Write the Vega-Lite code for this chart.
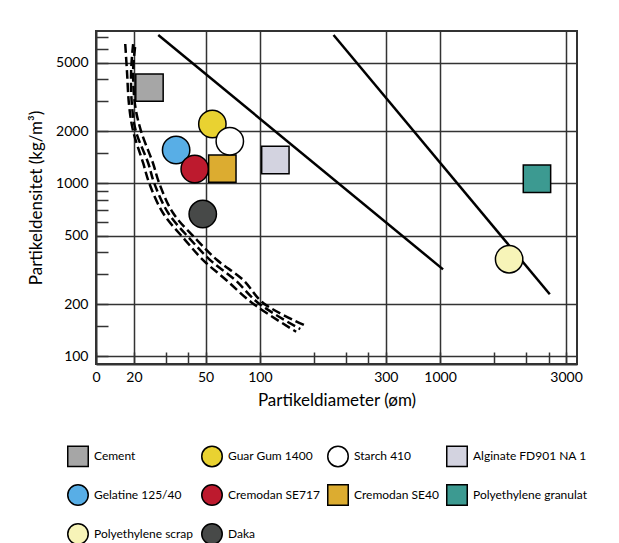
{
  "$schema": "https://vega.github.io/schema/vega-lite/v6.json",
  "width": 481,
  "height": 333,
  "autosize": {"type": "none"},
  "padding": {"left": 96, "top": 31, "right": 42, "bottom": 179},
  "background": "white",
  "config": {
    "font": "Lato",
    "view": {"stroke": "#333333", "strokeWidth": 2},
    "axis": {
      "domainColor": "#333333",
      "domainWidth": 2,
      "gridColor": "#333333",
      "gridWidth": 1.5,
      "tickColor": "#333333",
      "tickWidth": 1.5,
      "labelColor": "black",
      "labelFontSize": 14,
      "titleColor": "black",
      "titleFontSize": 17,
      "titleFontWeight": "normal",
      "labelFlush": false,
      "labelOverlap": false
    }
  },
  "datasets": {
    "materials": [
      {"name": "Cement", "d": 24.4, "rho": 3580},
      {"name": "Gelatine 125/40", "d": 34.3, "rho": 1562},
      {"name": "Cremodan SE717", "d": 43.5, "rho": 1213},
      {"name": "Cremodan SE40", "d": 61.9, "rho": 1218},
      {"name": "Guar Gum 1400", "d": 54.5, "rho": 2208},
      {"name": "Starch 410", "d": 68.1, "rho": 1754},
      {"name": "Alginate FD901 NA 1", "d": 121.9, "rho": 1367},
      {"name": "Daka", "d": 48.2, "rho": 666},
      {"name": "Polyethylene granulat", "d": 3450, "rho": 1066},
      {"name": "Polyethylene scrap", "d": 2417, "rho": 365}
    ],
    "curves": [
      {"curve": "A", "i": 1, "d": 17.9, "rho": 6400},
      {"curve": "A", "i": 2, "d": 18.3, "rho": 4470},
      {"curve": "A", "i": 3, "d": 18.8, "rho": 2840},
      {"curve": "A", "i": 4, "d": 19.8, "rho": 2010},
      {"curve": "A", "i": 5, "d": 22.5, "rho": 1314},
      {"curve": "A", "i": 6, "d": 24.3, "rho": 1007},
      {"curve": "A", "i": 7, "d": 29.0, "rho": 675},
      {"curve": "A", "i": 8, "d": 38.5, "rho": 471},
      {"curve": "A", "i": 9, "d": 48.4, "rho": 361},
      {"curve": "A", "i": 10, "d": 65.0, "rho": 277},
      {"curve": "A", "i": 11, "d": 90.6, "rho": 204},
      {"curve": "A", "i": 12, "d": 159, "rho": 139},
      {"curve": "B", "i": 1, "d": 19.8, "rho": 6400},
      {"curve": "B", "i": 2, "d": 19.3, "rho": 4470},
      {"curve": "B", "i": 3, "d": 19.5, "rho": 2840},
      {"curve": "B", "i": 4, "d": 20.5, "rho": 2010},
      {"curve": "B", "i": 5, "d": 24.0, "rho": 1314},
      {"curve": "B", "i": 6, "d": 25.9, "rho": 1007},
      {"curve": "B", "i": 7, "d": 31.0, "rho": 675},
      {"curve": "B", "i": 8, "d": 41.5, "rho": 471},
      {"curve": "B", "i": 9, "d": 53.0, "rho": 361},
      {"curve": "B", "i": 10, "d": 72.9, "rho": 277},
      {"curve": "B", "i": 11, "d": 97.9, "rho": 204},
      {"curve": "B", "i": 12, "d": 167.5, "rho": 144},
      {"curve": "C", "i": 1, "d": 20.3, "rho": 6150},
      {"curve": "C", "i": 2, "d": 19.8, "rho": 4470},
      {"curve": "C", "i": 3, "d": 20.3, "rho": 2840},
      {"curve": "C", "i": 4, "d": 21.9, "rho": 2010},
      {"curve": "C", "i": 5, "d": 25.5, "rho": 1314},
      {"curve": "C", "i": 6, "d": 27.6, "rho": 1007},
      {"curve": "C", "i": 7, "d": 33.0, "rho": 675},
      {"curve": "C", "i": 8, "d": 44.8, "rho": 471},
      {"curve": "C", "i": 9, "d": 57.9, "rho": 361},
      {"curve": "C", "i": 10, "d": 80.8, "rho": 277},
      {"curve": "C", "i": 11, "d": 104.3, "rho": 204},
      {"curve": "C", "i": 12, "d": 180.8, "rho": 150}
    ],
    "lines": [
      {"line": "L1", "d": 27.3, "rho": 7218},
      {"line": "L1", "d": 1039, "rho": 319},
      {"line": "L2", "d": 256.4, "rho": 7218},
      {"line": "L2", "d": 4063, "rho": 229}
    ]
  },
  "encoding": {
    "x": {
      "field": "d",
      "type": "quantitative",
      "scale": {"type": "log", "domain": [12.32, 5754], "nice": false},
      "axis": {
        "title": "Partikeldiameter (øm)",
        "values": [12.32, 20, 30, 40, 50, 100, 200, 300, 400, 500, 1000, 2000, 3000, 4000, 5000],
        "labelExpr": "datum.value < 13 ? '0' : datum.value == 500 ? '300' : datum.value == 5000 ? '3000' : (datum.value == 20 || datum.value == 50 || datum.value == 100 || datum.value == 1000) ? '' + datum.value : ''",
        "gridOpacity": {"condition": {"test": "datum.value == 20 || datum.value == 50 || datum.value == 100 || datum.value == 500 || datum.value == 1000 || datum.value == 5000", "value": 1}, "value": 0},
        "tickSize": -12,
        "labelPadding": 18,
        "titlePadding": 8
      }
    },
    "y": {
      "field": "rho",
      "type": "quantitative",
      "scale": {"type": "log", "domain": [90.5, 7611], "nice": false},
      "axis": {
        "title": "Partikeldensitet (kg/m³)",
        "values": [100, 150, 200, 300, 400, 500, 600, 700, 800, 900, 1000, 1500, 2000, 3000, 4000, 5000, 6000, 7000],
        "labelExpr": "indexof([100, 200, 500, 1000, 2000, 5000], datum.value) >= 0 ? '' + datum.value : ''",
        "gridOpacity": {"condition": {"test": "indexof([100, 200, 500, 1000, 2000, 5000], datum.value) >= 0", "value": 1}, "value": 0},
        "tickSize": -12,
        "labelPadding": 20,
        "titlePadding": 10
      }
    }
  },
  "layer": [
    {
      "data": {"name": "curves"},
      "mark": {"type": "line", "stroke": "black", "strokeWidth": 2.5, "strokeDash": [9, 4], "interpolate": "catmull-rom"},
      "encoding": {
        "detail": {"field": "curve", "type": "nominal"},
        "order": {"field": "i", "type": "quantitative"}
      }
    },
    {
      "data": {"name": "lines"},
      "mark": {"type": "line", "stroke": "black", "strokeWidth": 2.5},
      "encoding": {
        "detail": {"field": "line", "type": "nominal"}
      }
    },
    {
      "data": {"name": "materials"},
      "mark": {"type": "point", "filled": true, "size": 750, "stroke": "black", "strokeWidth": 1.5, "opacity": 1},
      "encoding": {
        "color": {
          "field": "name",
          "type": "nominal",
          "scale": {
            "domain": ["Cement", "Guar Gum 1400", "Starch 410", "Alginate FD901 NA 1", "Gelatine 125/40", "Cremodan SE717", "Cremodan SE40", "Polyethylene granulat", "Polyethylene scrap", "Daka"],
            "range": ["#a6a6a6", "#e9d231", "#ffffff", "#d3d3e0", "#58aee6", "#bd1a2e", "#dcac30", "#3c9a91", "#f7f4b8", "#474948"]
          },
          "legend": {
            "title": null, "orient": "none", "direction": "horizontal", "legendX": -29, "legendY": 414, "columns": 4,
            "symbolSize": 420, "symbolStrokeColor": "black", "symbolStrokeWidth": 1.5, "symbolOpacity": 1,
            "labelFont": "Lato", "labelFontSize": 12, "labelColor": "black", "labelOffset": 5, "labelLimit": 300,
            "rowPadding": 11, "columnPadding": 4, "padding": 0,
            "encode": {"symbols": {"update": {"stroke": {"value": "black"}, "strokeWidth": {"value": 1.5}}}}
          }
        },
        "shape": {
          "field": "name",
          "type": "nominal",
          "scale": {
            "domain": ["Cement", "Guar Gum 1400", "Starch 410", "Alginate FD901 NA 1", "Gelatine 125/40", "Cremodan SE717", "Cremodan SE40", "Polyethylene granulat", "Polyethylene scrap", "Daka"],
            "range": ["square", "circle", "circle", "square", "circle", "circle", "square", "square", "circle", "circle"]
          },
          "legend": {
            "title": null, "orient": "none", "direction": "horizontal", "legendX": -29, "legendY": 414, "columns": 4,
            "symbolSize": 420, "symbolStrokeColor": "black", "symbolStrokeWidth": 1.5, "symbolOpacity": 1,
            "labelFont": "Lato", "labelFontSize": 12, "labelColor": "black", "labelOffset": 5, "labelLimit": 300,
            "rowPadding": 11, "columnPadding": 4, "padding": 0,
            "encode": {"symbols": {"update": {"stroke": {"value": "black"}, "strokeWidth": {"value": 1.5}}}}
          }
        }
      }
    }
  ]
}
